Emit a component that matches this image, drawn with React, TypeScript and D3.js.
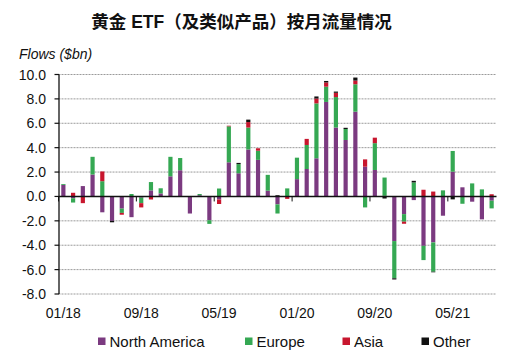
import React from 'react';
import * as d3 from 'd3';

// monthly categories, 01/18 .. 09/21
const months = [
  '01/18', '02/18', '03/18', '04/18', '05/18', '06/18', '07/18', '08/18', '09/18', '10/18', '11/18', '12/18',
  '01/19', '02/19', '03/19', '04/19', '05/19', '06/19', '07/19', '08/19', '09/19', '10/19', '11/19', '12/19',
  '01/20', '02/20', '03/20', '04/20', '05/20', '06/20', '07/20', '08/20', '09/20', '10/20', '11/20', '12/20',
  '01/21', '02/21', '03/21', '04/21', '05/21', '06/21', '07/21', '08/21', '09/21',
];

const northAmerica = [
  0.95, -0.15, 0.85, 1.8, -1.3, -2.0, -1.0, -1.7, -0.1, 0.5, 0.25, 1.65,
  2.15, -1.4, 0.1, -1.95, -0.25, 2.8, 1.9, 3.85, 3.0, 0.47, -0.65, 0,
  1.42, 2.25, 3.13, 7.75, 5.65, 4.63, 6.95, 2.44, 2.17, 0.05, -3.66, -1.45,
  -0.3, -4.05, -3.77, -1.58, 2.03, 0.75, -0.43, -1.88, -0.35,
];
const europe = [
  0.07, -0.35, 0, 1.45, 1.25, 0, -0.35, 0.2, -0.45, 0.68, 0.42, 1.6,
  1.0, 0, 0.1, -0.3, 0.65, 2.95, 0.75, 1.8, 0.75, 1.3, -0.75, 0.66,
  1.76, 1.97, 4.5, 1.25, 2.5, 0.9, 2.25, -0.9, 2.2, 1.5, -3.05, -0.62,
  1.15, -1.17, -2.4, 0.5, 1.7, -0.6, 1.07, 0.58, -0.63,
];
const asia = [
  0, 0.3, -0.55, 0, 0.8, 0, -0.15, 0, -0.35, -0.25, 0, 0,
  0, 0, 0, 0, -0.37, 0.05, 0, 0.45, 0.2, 0, 0, -0.2,
  0, 0.5, 0.4, 0.35, 0.35, 0, 0.3, 0.6, 0.45, 0, 0, -0.17,
  0, 0.55, 0.4, 0, 0, 0, 0, 0, 0.18,
];
const other = [
  0, 0, 0, 0, 0, -0.12, 0, 0, 0, 0, 0, 0,
  0, 0, 0, 0, 0, 0, 0.1, 0.2, 0, 0, 0.1, 0,
  0, 0, 0.17, 0.12, 0.1, 0.1, 0.25, 0, 0, -0.17, -0.1, 0,
  0.13, 0, -0.05, 0, -0.24, 0, 0, 0, 0,
];

const tickLabels = ['01/18', '09/18', '05/19', '01/20', '09/20', '05/21'];
const yTicks = [-8, -6, -4, -2, 0, 2, 4, 6, 8, 10];

const seriesKeys = ['North America', 'Europe', 'Asia', 'Other'];
const seriesColors = ['#7b3a80', '#35a853', '#c8162e', '#111111'];

const FONT = '"Liberation Sans", Arial, sans-serif';

export default function App() {
  const width = 521;
  const height = 362;
  const left = 58.5;
  const right = 496.5;

  const x = d3.scaleBand<string>()
    .domain(months)
    .range([left, right])
    .paddingInner(0.57)
    .paddingOuter(0.285);

  const y = d3.scaleLinear().domain([-8, 10]).range([294, 74.5]);

  const rows = months.map((m, i) => ({
    month: m,
    'North America': northAmerica[i],
    Europe: europe[i],
    Asia: asia[i],
    Other: other[i],
  }));

  const stacked = d3.stack<any>()
    .keys(seriesKeys)
    .offset(d3.stackOffsetDiverging)(rows);

  const color = d3.scaleOrdinal<string, string>().domain(seriesKeys).range(seriesColors);
  const step = x.step();

  const legendX = [98, 245, 342.5, 421.5];

  return (
    <svg width={width} height={height} style={{ position: 'absolute', left: 0, top: 0, background: '#fff' }}>
      <text x={241.5} y={28} textAnchor="middle" fontFamily={'"Liberation Sans", "Noto Sans CJK SC", sans-serif'}
        fontWeight="bold" fontSize={17.5} fill="#111">
        黄金 ETF（及类似产品）按月流量情况
      </text>
      <text x={19} y={59} fontFamily={FONT} fontStyle="italic" fontSize={14} fill="#111">Flows ($bn)</text>

      {/* gridlines */}
      {yTicks.filter((t) => t !== 0).map((t) => (
        <line key={t} x1={left} x2={right} y1={y(t)} y2={y(t)} stroke="#9a9a9a" strokeWidth={1} strokeDasharray="2,1" />
      ))}

      {/* y axis */}
      <line x1={59} x2={59} y1={y(10)} y2={y(-8)} stroke="#111" strokeWidth={1.3} />
      {yTicks.map((t) => (
        <g key={t}>
          <line x1={54.5} x2={59} y1={y(t)} y2={y(t)} stroke="#111" strokeWidth={1.2} />
          <text x={46} y={y(t) + 5} textAnchor="end" fontFamily={FONT} fontSize={14} fill="#111">{t.toFixed(1)}</text>
        </g>
      ))}

      {/* bars */}
      {stacked.map((s, si) => (
        <g key={s.key} fill={color(s.key)}>
          {s.map((d: any, i: number) => {
            const h = Math.abs(y(d[0]) - y(d[1]));
            if (h < 0.01) return null;
            return (
              <rect key={i} x={x(months[i])!} width={x.bandwidth()} y={Math.min(y(d[0]), y(d[1]))} height={h} />
            );
          })}
        </g>
      ))}

      {/* zero line + x ticks */}
      <line x1={59} x2={right} y1={y(0)} y2={y(0)} stroke="#111" strokeWidth={1.5} />
      {tickLabels.map((t) => {
        const cx = x(t)! + x.bandwidth() / 2;
        return (
          <g key={t}>
            <line x1={cx - step / 2} x2={cx - step / 2} y1={y(0)} y2={y(0) + 5} stroke="#111" strokeWidth={1} />
            <text x={cx} y={318} textAnchor="middle" fontFamily={FONT} fontSize={14} fill="#111">{t}</text>
          </g>
        );
      })}

      {/* legend */}
      {seriesKeys.map((k, i) => (
        <g key={k}>
          <rect x={legendX[i]} y={337.5} width={7.5} height={7.5} fill={color(k)} />
          <text x={legendX[i] + 11.5} y={346.5} fontFamily={FONT} fontSize={15} fill="#111">{k}</text>
        </g>
      ))}
    </svg>
  );
}
